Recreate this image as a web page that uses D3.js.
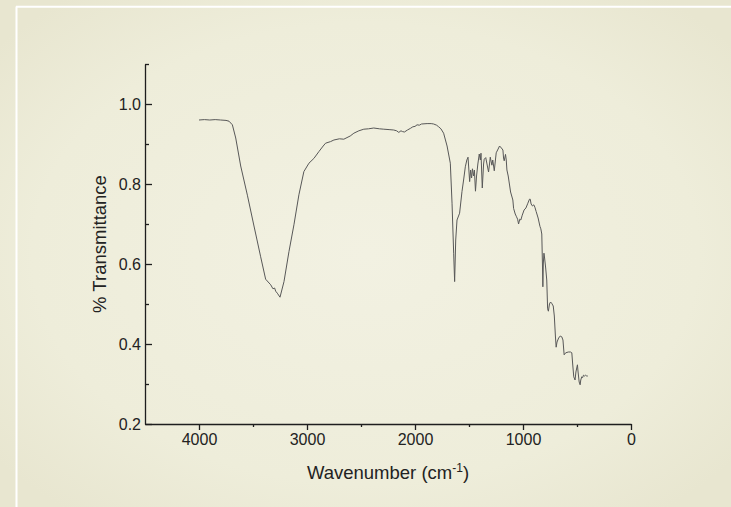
<!DOCTYPE html>
<html lang="en">
<head>
<meta charset="UTF-8">
<title>FTIR Spectrum</title>
<script src="https://cdn.jsdelivr.net/npm/d3@7.8.5/dist/d3.min.js"></script>
<style>
    html, body { margin: 0; padding: 0; }
    body { width: 731px; height: 507px; overflow: hidden; font-family: "Liberation Sans", Arial, sans-serif; }
    svg { display: block; }
</style>
</head>
<body>
<div id="chart"></div>
<script>
// wavenumber (cm-1)
const wavenumber = [
    4000, 3950, 3900, 3850, 3800, 3750, 3722, 3691, 3660, 3614,
    3552, 3491, 3429, 3383, 3336, 3315, 3300, 3290, 3275, 3250,
    3213, 3167, 3121, 3075, 3029, 2982, 2936, 2890, 2850, 2828,
    2782, 2751, 2700, 2659, 2600, 2566, 2520, 2474, 2430, 2382,
    2330, 2289, 2240, 2197, 2170, 2150, 2130, 2115, 2098, 2070,
    2043, 2020, 2000, 1981, 1960, 1940, 1888, 1850, 1827, 1800,
    1781, 1760, 1735, 1703, 1673, 1657, 1642, 1633, 1623, 1611,
    1587, 1565, 1550, 1534, 1520, 1509, 1500, 1494, 1485, 1476,
    1468, 1458, 1450, 1440, 1430, 1418, 1405, 1395, 1389, 1377,
    1365, 1359, 1345, 1330, 1319, 1310, 1303, 1288, 1280, 1266,
    1248, 1235, 1217, 1200, 1186, 1180, 1174, 1162, 1155, 1149,
    1137, 1115, 1094, 1087, 1072, 1060, 1050, 1041, 1030, 1020,
    1007, 990, 973, 955, 940, 933, 925, 912, 900, 890,
    878, 860, 843, 835, 826, 820, 816, 812, 806, 800,
    790, 780, 772, 765, 755, 745, 735, 720, 710, 700,
    693, 685, 670, 655, 641, 630, 619, 605, 580, 560,
    548, 540, 530, 518, 510, 496, 490, 480, 471, 465,
    456, 448, 440, 430, 420, 410, 400
];
// transmittance
const transmittance = [
    0.960, 0.961, 0.960, 0.961, 0.960, 0.959, 0.957, 0.948, 0.915, 0.845,
    0.772, 0.695, 0.618, 0.562, 0.548, 0.538, 0.540, 0.532, 0.527, 0.517,
    0.556, 0.631, 0.698, 0.773, 0.831, 0.852, 0.864, 0.881, 0.895, 0.902,
    0.906, 0.910, 0.913, 0.912, 0.920, 0.927, 0.933, 0.937, 0.938, 0.940,
    0.938, 0.937, 0.936, 0.935, 0.933, 0.929, 0.933, 0.931, 0.930, 0.935,
    0.939, 0.943, 0.944, 0.948, 0.947, 0.950, 0.951, 0.951, 0.950, 0.947,
    0.943, 0.938, 0.927, 0.895, 0.852, 0.752, 0.627, 0.556, 0.660, 0.710,
    0.727, 0.781, 0.810, 0.843, 0.860, 0.867, 0.830, 0.806, 0.835, 0.815,
    0.838, 0.820, 0.835, 0.782, 0.820, 0.850, 0.875, 0.860, 0.877, 0.790,
    0.850, 0.862, 0.866, 0.845, 0.830, 0.850, 0.867, 0.847, 0.860, 0.833,
    0.878, 0.885, 0.895, 0.890, 0.885, 0.865, 0.858, 0.874, 0.860, 0.835,
    0.820, 0.780, 0.760, 0.739, 0.725, 0.718, 0.712, 0.700, 0.712, 0.710,
    0.722, 0.735, 0.740, 0.752, 0.762, 0.762, 0.750, 0.745, 0.748, 0.742,
    0.731, 0.715, 0.694, 0.688, 0.675, 0.600, 0.543, 0.600, 0.627, 0.615,
    0.590, 0.560, 0.488, 0.482, 0.500, 0.505, 0.502, 0.495, 0.470, 0.420,
    0.392, 0.405, 0.415, 0.420, 0.418, 0.410, 0.373, 0.378, 0.380, 0.380,
    0.378, 0.350, 0.318, 0.310, 0.330, 0.348, 0.330, 0.305, 0.298, 0.310,
    0.318, 0.316, 0.322, 0.320, 0.322, 0.320, 0.320
];
const xMajorTicks = [4000, 3000, 2000, 1000, 0];
const xMinorTicks = [3500, 2500, 1500, 500];
const yMajorTicks = [0.2, 0.4, 0.6, 0.8, 1.0];
const yMinorTicks = [0.3, 0.5, 0.7, 0.9, 1.1];

const W = 731, H = 507;
const data = wavenumber.map((w, i) => ({w: w, t: transmittance[i]}));

const svg = d3.select("#chart").append("svg")
    .attr("width", W)
    .attr("height", H);

// beige background, a bit lighter in the middle
const defs = svg.append("defs");
const grad = defs.append("radialGradient")
    .attr("id", "bg")
    .attr("cx", "50%").attr("cy", "50%").attr("r", "65%");
grad.append("stop").attr("offset", "0%").attr("stop-color", "#f2f1e2");
grad.append("stop").attr("offset", "70%").attr("stop-color", "#eeedda");
grad.append("stop").attr("offset", "100%").attr("stop-color", "#e8e6d0");

svg.append("rect")
    .attr("width", W).attr("height", H)
    .attr("fill", "url(#bg)");

// white frame lines
svg.append("line")
    .attr("x1", 16.5).attr("y1", 6.5).attr("x2", 16.5).attr("y2", H)
    .attr("stroke", "#ffffff").attr("stroke-width", 2);
svg.append("line")
    .attr("x1", 16).attr("y1", 6.8).attr("x2", W).attr("y2", 6.8)
    .attr("stroke", "#ffffff").attr("stroke-width", 2);

const xScale = d3.scaleLinear().domain([4500, 0]).range([145, 631]);
const yScale = d3.scaleLinear().domain([0.2, 1.1]).range([424, 64]);

const axisColor = "#1e1e1e";

// x axis
svg.append("g")
    .attr("transform", `translate(0,${yScale(0.2)})`)
    .call(d3.axisBottom(xScale)
        .tickValues(xMajorTicks)
        .tickSize(6)
        .tickSizeOuter(0)
        .tickPadding(4)
        .tickFormat(d3.format("d")));
svg.append("g")
    .attr("transform", `translate(0,${yScale(0.2)})`)
    .call(d3.axisBottom(xScale)
        .tickValues(xMinorTicks)
        .tickSize(3)
        .tickSizeOuter(0)
        .tickFormat(""))
    .select(".domain").remove();

// y axis, ticks pointing inwards
svg.append("g")
    .attr("transform", `translate(${xScale(4500)},0)`)
    .call(d3.axisLeft(yScale)
        .tickValues(yMajorTicks)
        .tickSize(-7)
        .tickSizeOuter(0)
        .tickPadding(4)
        .tickFormat(d3.format(".1f")));
svg.append("g")
    .attr("transform", `translate(${xScale(4500)},0)`)
    .call(d3.axisLeft(yScale)
        .tickValues(yMinorTicks)
        .tickSize(-4)
        .tickSizeOuter(0)
        .tickFormat(""))
    .select(".domain").remove();

svg.selectAll(".domain, .tick line")
    .attr("stroke", axisColor)
    .attr("stroke-width", 1.3);
svg.selectAll(".tick text")
    .attr("fill", "#222")
    .attr("font-size", 16)
    .attr("font-family", "'Liberation Sans', Arial, sans-serif");

// spectrum
svg.append("path")
    .datum(data)
    .attr("fill", "none")
    .attr("stroke", "#585858")
    .attr("stroke-width", 1)
    .attr("stroke-linejoin", "round")
    .attr("d", d3.line()
        .x(d => xScale(d.w))
        .y(d => yScale(d.t)));

// axis titles
svg.append("text")
    .attr("transform", `translate(106,${(yScale(0.2) + yScale(1.1)) / 2}) rotate(-90)`)
    .attr("text-anchor", "middle")
    .attr("fill", "#222")
    .style("font-size", "18.5px")
    .text("% Transmittance");

const xt = svg.append("text")
    .attr("x", 388)
    .attr("y", 479)
    .attr("text-anchor", "middle")
    .attr("fill", "#222")
    .style("font-size", "18.5px");
xt.append("tspan").text("Wavenumber (cm");
xt.append("tspan").attr("dy", -7).style("font-size", "12px").text("-1");
xt.append("tspan").attr("dy", 7).text(")");
</script>
</body>
</html>
